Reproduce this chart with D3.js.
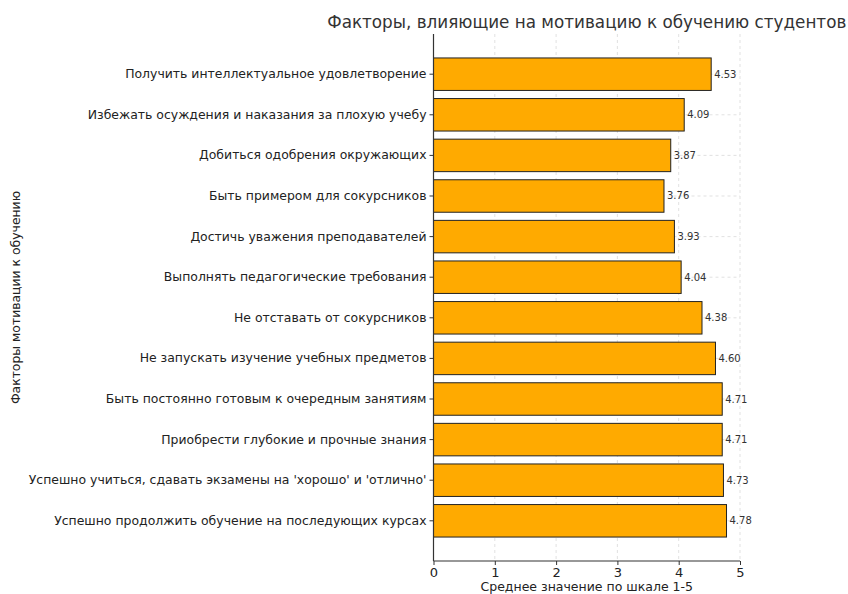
<!DOCTYPE html>
<html><head><meta charset="utf-8">
<script src="https://cdn.jsdelivr.net/npm/d3@7"></script>
<style>body{margin:0;background:#fff}svg{display:block}text{font-family:"DejaVu Sans",sans-serif}</style>
</head><body>
<svg id="c" width="848" height="594"></svg>
<script>
const categories = [
  "Получить интеллектуальное удовлетворение",
  "Избежать осуждения и наказания за плохую учебу",
  "Добиться одобрения окружающих",
  "Быть примером для сокурсников",
  "Достичь уважения преподавателей",
  "Выполнять педагогические требования",
  "Не отставать от сокурсников",
  "Не запускать изучение учебных предметов",
  "Быть постоянно готовым к очередным занятиям",
  "Приобрести глубокие и прочные знания",
  "Успешно учиться, сдавать экзамены на 'хорошо' и 'отлично'",
  "Успешно продолжить обучение на последующих курсах"
];
const values = [4.53, 4.09, 3.87, 3.76, 3.93, 4.04, 4.38, 4.60, 4.71, 4.71, 4.73, 4.78];
const xTicks = [0, 1, 2, 3, 4, 5];
const title = "Факторы, влияющие на мотивацию к обучению студентов";
const xLabel = "Среднее значение по шкале 1-5";
const yLabel = "Факторы мотивации к обучению";

const svg = d3.select("#c");
const L = 433.5, R = 740, T = 34, B = 561;
const x = d3.scaleLinear().domain([0, 5]).range([L, R]);
const n = categories.length;
const step = (B - T) / (n - 1 + 0.8 + 2 * 0.59);
const y = d3.scaleBand().domain(categories)
  .range([T + (0.99 - 0.5) * step, B - (0.99 - 0.5) * step])
  .paddingInner(0.2).paddingOuter(0.1);

const g = svg.append("g");
g.selectAll("line.vg").data(xTicks).join("line")
  .attr("x1", d => x(d)).attr("x2", d => x(d)).attr("y1", T).attr("y2", B)
  .attr("stroke", "#d9d9d9").attr("stroke-width", 0.8).attr("stroke-dasharray", "3,3");
g.selectAll("line.hg").data(categories).join("line")
  .attr("x1", L).attr("x2", R)
  .attr("y1", d => y(d) + y.bandwidth() / 2).attr("y2", d => y(d) + y.bandwidth() / 2)
  .attr("stroke", "#d9d9d9").attr("stroke-width", 0.8).attr("stroke-dasharray", "3,3");

svg.append("g").selectAll("rect").data(values).join("rect")
  .attr("x", x(0)).attr("y", (d, i) => y(categories[i]))
  .attr("width", d => x(d) - x(0)).attr("height", y.bandwidth())
  .attr("fill", "#ffaa00").attr("stroke", "#222").attr("stroke-width", 1);

svg.append("g").selectAll("text").data(values).join("text")
  .attr("x", d => x(d) + 3).attr("y", (d, i) => y(categories[i]) + y.bandwidth() / 2)
  .attr("dy", "0.35em").attr("font-size", 10).attr("fill", "#333")
  .text(d => d.toFixed(2));

const xa = svg.append("g").attr("transform", `translate(0,${B})`)
  .call(d3.axisBottom(x).tickValues(xTicks).tickFormat(d3.format("d")).tickSize(4).tickPadding(3));
xa.select(".domain").attr("stroke", "#333").attr("stroke-width", 1.2).attr("d", `M${L},0H${R}`);
xa.selectAll(".tick line").attr("stroke", "#333");
xa.selectAll(".tick text").attr("font-size", 13).attr("fill", "#222").attr("font-family", "DejaVu Sans");

const ya = svg.append("g").attr("transform", `translate(${L},0)`)
  .call(d3.axisLeft(y).tickSize(4).tickPadding(3));
ya.select(".domain").attr("stroke", "#333").attr("stroke-width", 1.2).attr("d", `M0,${T}V${B}`);
ya.selectAll(".tick line").attr("stroke", "#333");
ya.selectAll(".tick text").attr("font-size", 12.45).attr("fill", "#222").attr("font-family", "DejaVu Sans");

svg.append("text").attr("x", (L + R) / 2).attr("y", 28).attr("text-anchor", "middle")
  .attr("font-size", 16.8).attr("fill", "#333").text(title);
svg.append("text").attr("x", (L + R) / 2).attr("y", 591).attr("text-anchor", "middle")
  .attr("font-size", 12.5).attr("fill", "#222").text(xLabel);
svg.append("text").attr("transform", `translate(20,${(T + B) / 2}) rotate(-90)`)
  .attr("text-anchor", "middle").attr("font-size", 12.4).attr("fill", "#222").text(yLabel);
</script>
</body></html>
